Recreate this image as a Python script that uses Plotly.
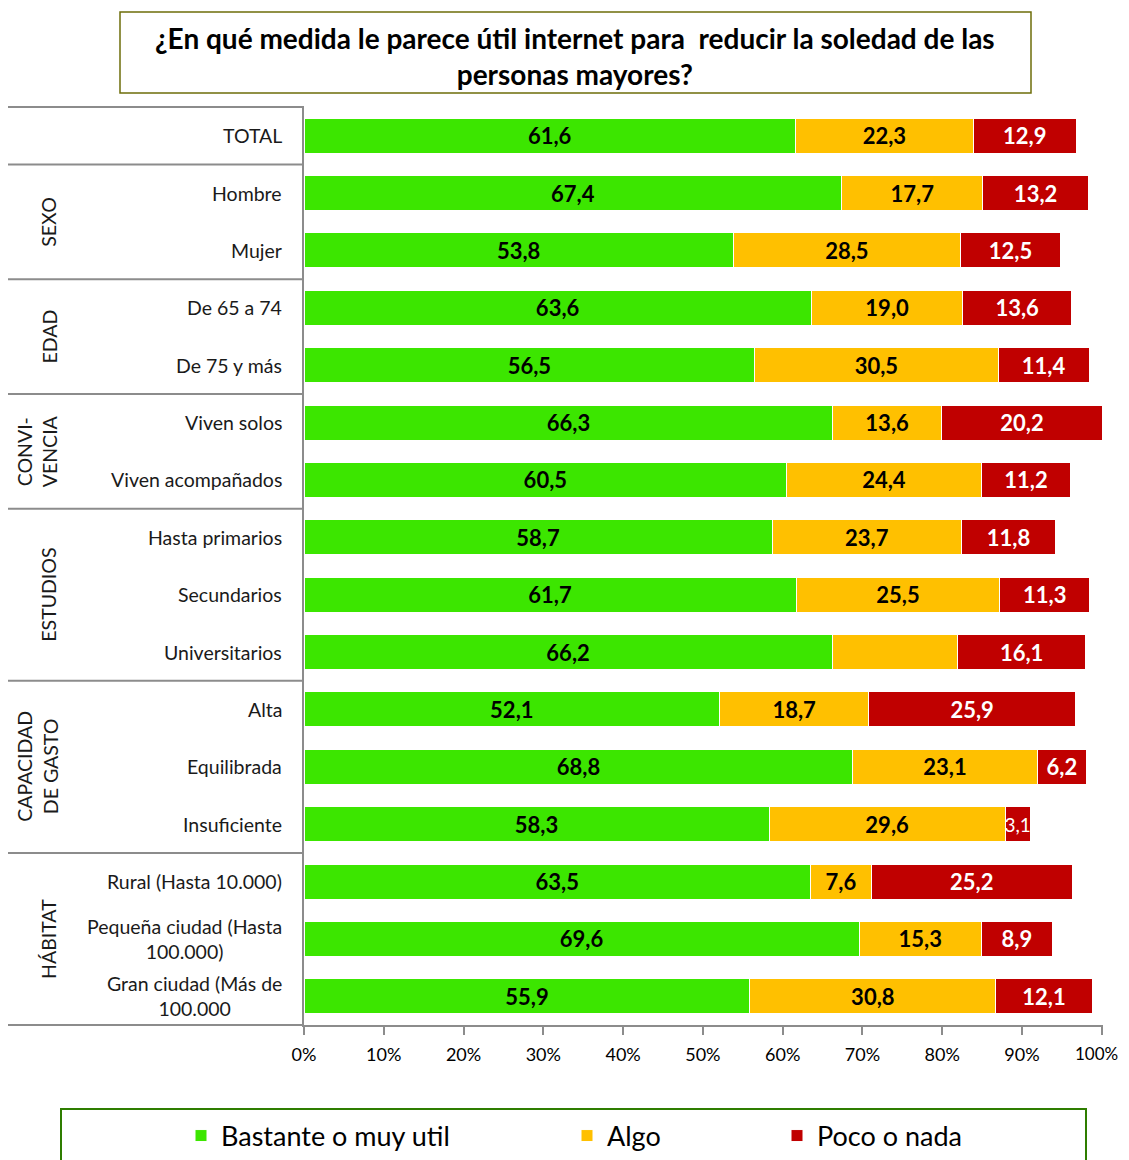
import plotly.graph_objects as go

categories = ["TOTAL", "Hombre", "Mujer", "De 65 a 74", "De 75 y más", "Viven solos",
              "Viven acompañados", "Hasta primarios", "Secundarios", "Universitarios",
              "Alta", "Equilibrada", "Insuficiente", "Rural (Hasta 10.000)",
              "Pequeña ciudad (Hasta<br>100.000)", "Gran ciudad (Más de<br>100.000"]
bastante = [61.6, 67.4, 53.8, 63.6, 56.5, 66.3, 60.5, 58.7, 61.7, 66.2, 52.1, 68.8, 58.3, 63.5, 69.6, 55.9]
algo = [22.3, 17.7, 28.5, 19.0, 30.5, 13.6, 24.4, 23.7, 25.5, 15.7, 18.7, 23.1, 29.6, 7.6, 15.3, 30.8]
poco = [12.9, 13.2, 12.5, 13.6, 11.4, 20.2, 11.2, 11.8, 11.3, 16.1, 25.9, 6.2, 3.1, 25.2, 8.9, 12.1]
groups = [("", 0, 0), ("SEXO", 1, 2), ("EDAD", 3, 4), ("CONVI-<br>VENCIA", 5, 6),
          ("ESTUDIOS", 7, 9), ("CAPACIDAD<br>DE GASTO", 10, 12), ("HÁBITAT", 13, 15)]
series_names = ["Bastante o muy util", "Algo", "Poco o nada"]
colors = ["#3CE600", "#FFC000", "#C00000"]
tick_vals = [0, 10, 20, 30, 40, 50, 60, 70, 80, 90, 100]
tick_text = ["0%", "10%", "20%", "30%", "40%", "50%", "60%", "70%", "80%", "90%", "100%"]

FONT = "Lato"
OFF = 8  # page body margin
W, H = 1129 - OFF, 1160 - OFF
L, R, T, B = 304, 1103, 107, 1025  # plot area in reference pixels
pw, ph = R - L, B - T
ids = list(range(len(categories)))


def px(x):
    return (x - L) / pw


def py(y):
    return (B - y) / ph


def fmt(v):
    return f"{v:.1f}".replace(".", ",")


fig = go.Figure()
series = [bastante, algo, poco]
for k, (name, vals, col) in enumerate(zip(series_names, series, colors)):
    texts, tcols, tsizes = [], [], []
    for i, v in enumerate(vals):
        if k == 1 and categories[i] == "Universitarios":
            texts.append("")
        elif k == 2 and v < 5:
            texts.append(fmt(v))
        else:
            texts.append("<b>" + fmt(v) + "</b>")
        tcols.append("white" if k == 2 else "black")
        tsizes.append(19 if (k == 2 and v < 5) else 22)
    fig.add_trace(go.Bar(
        x=vals, y=ids, orientation="h", name=name,
        marker=dict(color=col, line=dict(color="white", width=1)),
        text=texts, textposition="inside", insidetextanchor="middle",
        constraintext="none", cliponaxis=False, textangle=0,
        textfont=dict(family=FONT, color=tcols, size=tsizes),
        legend=["legend", "legend2", "legend3"][k], showlegend=True,
        hoverinfo="skip",
    ))

annotations = []
shapes = []
for i, c in enumerate(categories):
    annotations.append(dict(x=px(284), xref="paper", y=i, yref="y", text=c, showarrow=False,
                            xanchor="right", yanchor="middle", align="center",
                            font=dict(family=FONT, size=19.5, color="#1a1a1a")))
bounds = [0]
for name, a, b in groups:
    bounds.append(b + 1)
    if name:
        yc = 1 - ((a + b) / 2 + 0.5) / len(categories)
        xc = 37 if "<br>" in name else 49
        annotations.append(dict(x=px(xc), xref="paper", y=yc, yref="paper", text=name,
                                showarrow=False, textangle=-90, xanchor="center", yanchor="middle",
                                align="center", font=dict(family=FONT, size=19.5, color="#1a1a1a")))
for bnd in sorted(set(bounds)):
    yp = 1 - bnd / len(categories)
    shapes.append(dict(type="line", xref="paper", yref="paper", x0=px(8), x1=0, y0=yp, y1=yp,
                       line=dict(color="#8c8c8c", width=2)))

shapes.append(dict(type="rect", xref="paper", yref="paper", x0=px(120), x1=px(1031), y0=py(93), y1=py(12),
                   line=dict(color="#6E6E0A", width=1.5), fillcolor="white"))
annotations.append(dict(x=px(575), xref="paper", y=py(56), yref="paper",
                        text="<b>¿En qué medida le parece útil internet para  reducir la soledad de las<br>personas mayores?</b>",
                        showarrow=False, xanchor="center", yanchor="middle", align="center",
                        font=dict(family=FONT, size=28, color="black")))
shapes.append(dict(type="rect", xref="paper", yref="paper", x0=px(61), x1=px(1086), y0=py(1175), y1=py(1109),
                   line=dict(color="#2E7D00", width=2), fillcolor="rgba(0,0,0,0)"))

# last tick label drawn right-anchored so it stays inside the visible page
shown_ticks = tick_text[:-1] + [""]
annotations.append(dict(x=tick_vals[-1], xref="x", y=py(1053), yref="paper", text=tick_text[-1],
                        showarrow=False, xanchor="center", xshift=-5, yanchor="middle",
                        font=dict(family=FONT, size=17, color="black")))

leg_common = dict(orientation="h", yanchor="middle", y=py(1136), xanchor="left",
                  font=dict(family=FONT, size=27, color="black"), bgcolor="rgba(0,0,0,0)",
                  itemclick=False)
fig.update_layout(
    width=W, height=H, barmode="stack", bargap=0.39,
    margin=dict(l=L - OFF, r=W - (R - OFF), t=T - OFF, b=H - (B - OFF), autoexpand=False),
    paper_bgcolor="white", plot_bgcolor="white",
    font=dict(family=FONT),
    xaxis=dict(range=[0, 100.15], tickvals=tick_vals, ticktext=shown_ticks, showgrid=False,
               zeroline=False, showline=True, linecolor="#8c8c8c", linewidth=2,
               ticks="outside", ticklen=8, tickcolor="#8c8c8c", tickwidth=2,
               ticklabelstandoff=4, ticklabeloverflow="allow",
               tickfont=dict(family=FONT, size=18, color="black"), fixedrange=True),
    yaxis=dict(range=[len(categories) - 0.5, -0.5], showticklabels=False, showgrid=False,
               zeroline=False, showline=True, linecolor="#8c8c8c", linewidth=2, ticks=""),
    legend=dict(x=px(181), **leg_common),
    legend2=dict(x=px(567), **leg_common),
    legend3=dict(x=px(777), **leg_common),
    shapes=shapes, annotations=annotations,
)
fig.write_html("out.html")
